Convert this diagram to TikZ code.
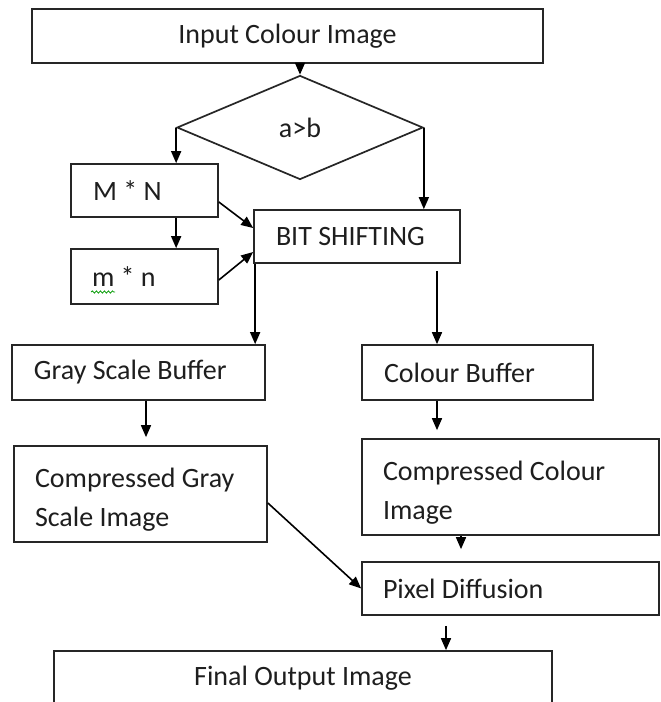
\documentclass[tikz,border=0pt]{standalone}
\usepackage{fontspec}
\setmainfont{Carlito}
\usetikzlibrary{arrows.meta,shapes.geometric,calc,decorations.pathmorphing}
\newcommand\flowfont{\fontsize{28}{39}\selectfont}
\definecolor{linec}{HTML}{262626}
\definecolor{txtc}{HTML}{1E1E1E}

\begin{document}
\begin{tikzpicture}[x=1pt,y=-1pt,
  box/.style={draw=linec, line width=1.7pt, rectangle, inner sep=0pt,
              font=\flowfont, text=txtc},
  lbox/.style={box, align=flush left},
  conn/.style={draw=black, line width=1.6pt,
               -{Triangle[width=10pt,length=12pt]}}
]
\useasboundingbox (0,0) rectangle (661,702);
\clip (0,0) rectangle (661,702);
\fill[white] (0,0) rectangle (661,702);

% top of the chart
\node[box, minimum width=511pt, minimum height=54pt] (in) at (287.5,36) {Input Colour Image};
\node[box, shape=diamond, minimum width=246pt, minimum height=104pt] (d) at (300,127.5) {a>b};

% size branch
\node[lbox, minimum height=53pt, text width=103pt, inner xsep=22pt] (mn) at (144.5,190.5) {M * N};
\node[lbox, minimum height=55pt, text width=105pt, inner xsep=21pt] (mm) at (144.5,276.5) {m * n};
\node[lbox, minimum height=53pt, text width=162pt, inner xsep=22pt] (bit) at (357,236.5) {BIT SHIFTING};

% buffers
\node[lbox, minimum height=55pt, text width=209pt, inner xsep=22pt] (gs) at (138.5,372.5) {Gray Scale Buffer};
\node[lbox, minimum height=55pt, text width=187pt, inner xsep=22pt] (cb) at (477.5,372.5) {Colour Buffer};

% compressed images (the leading strut sets the text a little lower)
\node[lbox, minimum height=96pt, text width=211pt, inner xsep=21pt] (cg) at (140.5,494) {\rule{0pt}{30pt}Compressed Gray\\Scale Image};
\node[lbox, minimum height=96pt, text width=255pt, inner xsep=21pt] (cc) at (510.5,487) {\rule{0pt}{30pt}Compressed Colour\\Image};
\node[lbox, minimum height=53pt, text width=255pt, inner xsep=21pt] (pd) at (510.5,588.5) {Pixel Diffusion};

% result
\node[box, minimum width=498pt, minimum height=54pt] (fo) at (303,678) {Final Output Image};

% spell-check squiggle under the small m
\draw[green!60!black, line width=0.8pt, decorate,
      decoration={snake, amplitude=1.1pt, segment length=4pt}]
  ($(mm.west)+(21,15.5)$) -- ($(mm.west)+(45,15.5)$);

% connectors
\draw[conn] (d.north |- in.south) -- (d.north);
\draw[conn] (d.west) -- (d.west |- mn.north);
\draw[conn] (d.east) -- (d.east |- bit.north);
\draw[conn] (d.west |- mn.south) -- (d.west |- mm.north);
\draw[conn] ($(mn.east)+(0,11.5)$) -- ($(bit.west)+(0,-8.5)$);
\draw[conn] ($(mm.east)+(0,3.5)$) -- ($(bit.west)+(0,15.5)$);

\coordinate (bl) at ($(bit.south west)+(2,0)$);
\draw[conn] (bl) -- (bl |- gs.north);
\coordinate (br) at ($(bit.south)+(80,7)$);
\draw[conn] (br) -- (br |- cb.north);

\coordinate (gsa) at ($(gs.south)+(7.5,0)$);
\draw[conn] (gsa) -- ($(gsa |- cg.north)+(0,-8)$);
\coordinate (cba) at ($(cb.south)+(-40.5,0)$);
\draw[conn] (cba) -- ($(cba |- cc.north)+(0,-8)$);

\coordinate (cca) at ($(cc.south)+(-49.5,0)$);
\draw[conn] (cca) -- ($(cca |- pd.north)+(0,-12)$);
\draw[conn] ($(cg.east)+(0,9)$) -- (pd.west);

\coordinate (pda) at ($(pd.south)+(-64.5,10)$);
\draw[conn] (pda) -- (pda |- fo.north);
\end{tikzpicture}
\end{document}
